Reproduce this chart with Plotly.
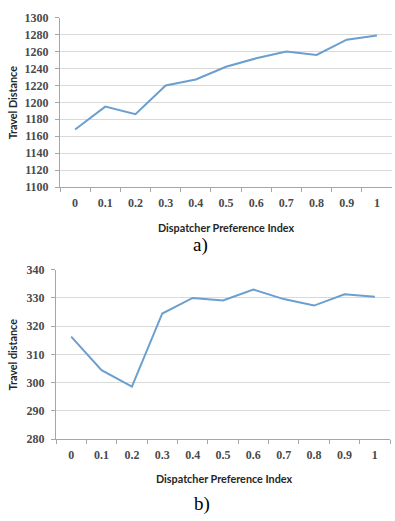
import plotly.graph_objects as go

categories = ["0", "0.1", "0.2", "0.3", "0.4", "0.5", "0.6", "0.7", "0.8", "0.9", "1"]
distance_a = [1168, 1195, 1186, 1220, 1227, 1242, 1252, 1260, 1256, 1274, 1279]
distance_b = [316.3, 304.4, 298.6, 324.5, 330.0, 329.1, 333.0, 329.6, 327.3, 331.3, 330.4]
yticks_a = [1100, 1120, 1140, 1160, 1180, 1200, 1220, 1240, 1260, 1280, 1300]
yticks_b = [280, 290, 300, 310, 320, 330, 340]

W, H = 395, 521
line_color = "#6a9fcf"
grid_color = "#d9d9d9"
axis_color = "#a6a6a6"
tick_font = dict(family="Liberation Serif", size=12, color="#4a4a4a", weight="bold")
title_font = dict(family="Lato", size=10.8, color="#262626")

fig = go.Figure()
fig.add_trace(go.Scatter(x=categories, y=distance_a, mode="lines",
                         line=dict(color=line_color, width=2), xaxis="x", yaxis="y",
                         showlegend=False))
fig.add_trace(go.Scatter(x=categories, y=distance_b, mode="lines",
                         line=dict(color=line_color, width=2), xaxis="x2", yaxis="y2",
                         showlegend=False))

def py(px):
    return 1 - px / H

def pxf(px):
    return px / W

ncat = len(categories)
xcommon = dict(type="category", tickson="boundaries", ticks="outside", ticklen=4,
               tickcolor=axis_color, showline=True, linecolor=axis_color, linewidth=1,
               showgrid=False, tickfont=tick_font, zeroline=False,
               range=[-0.5, ncat - 0.5], ticklabelstandoff=5)
ycommon = dict(ticks="outside", ticklen=4, tickcolor=axis_color, showline=True,
               linecolor=axis_color, linewidth=1, showgrid=True, gridcolor=grid_color,
               gridwidth=1, tickfont=tick_font, zeroline=False, ticklabelstandoff=4)

fig.update_layout(
    width=W, height=H, margin=dict(l=0, r=0, t=0, b=0),
    paper_bgcolor="white", plot_bgcolor="white",
    xaxis=dict(domain=[pxf(60), pxf(392)], anchor="y", **xcommon),
    yaxis=dict(domain=[py(185), py(11)], anchor="x", range=[1100, 1300],
               tickvals=yticks_a, **ycommon),
    xaxis2=dict(domain=[pxf(56), pxf(390)], anchor="y2", **xcommon),
    yaxis2=dict(domain=[py(444), py(270)], anchor="x2", range=[280, 340],
                tickvals=yticks_b, **ycommon),
)

annotations = [
    dict(text="<b>Travel Distance</b>", x=pxf(12), y=py(98), textangle=-90, font=title_font),
    dict(text="<b>Dispatcher Preference Index</b>", x=pxf(226), y=py(227), font=title_font),
    dict(text="a)", x=pxf(200), y=py(245), font=dict(family="Liberation Serif", size=19, color="#000000")),
    dict(text="<b>Travel distance</b>", x=pxf(12), y=py(357), textangle=-90, font=title_font),
    dict(text="<b>Dispatcher Preference Index</b>", x=pxf(224), y=py(485), font=title_font),
    dict(text="b)", x=pxf(202), y=py(511), font=dict(family="Liberation Serif", size=19, color="#000000")),
]
for a in annotations:
    a.update(xref="paper", yref="paper", showarrow=False, xanchor="center", yanchor="middle")
fig.update_layout(annotations=annotations)

fig.write_html("out.html")
